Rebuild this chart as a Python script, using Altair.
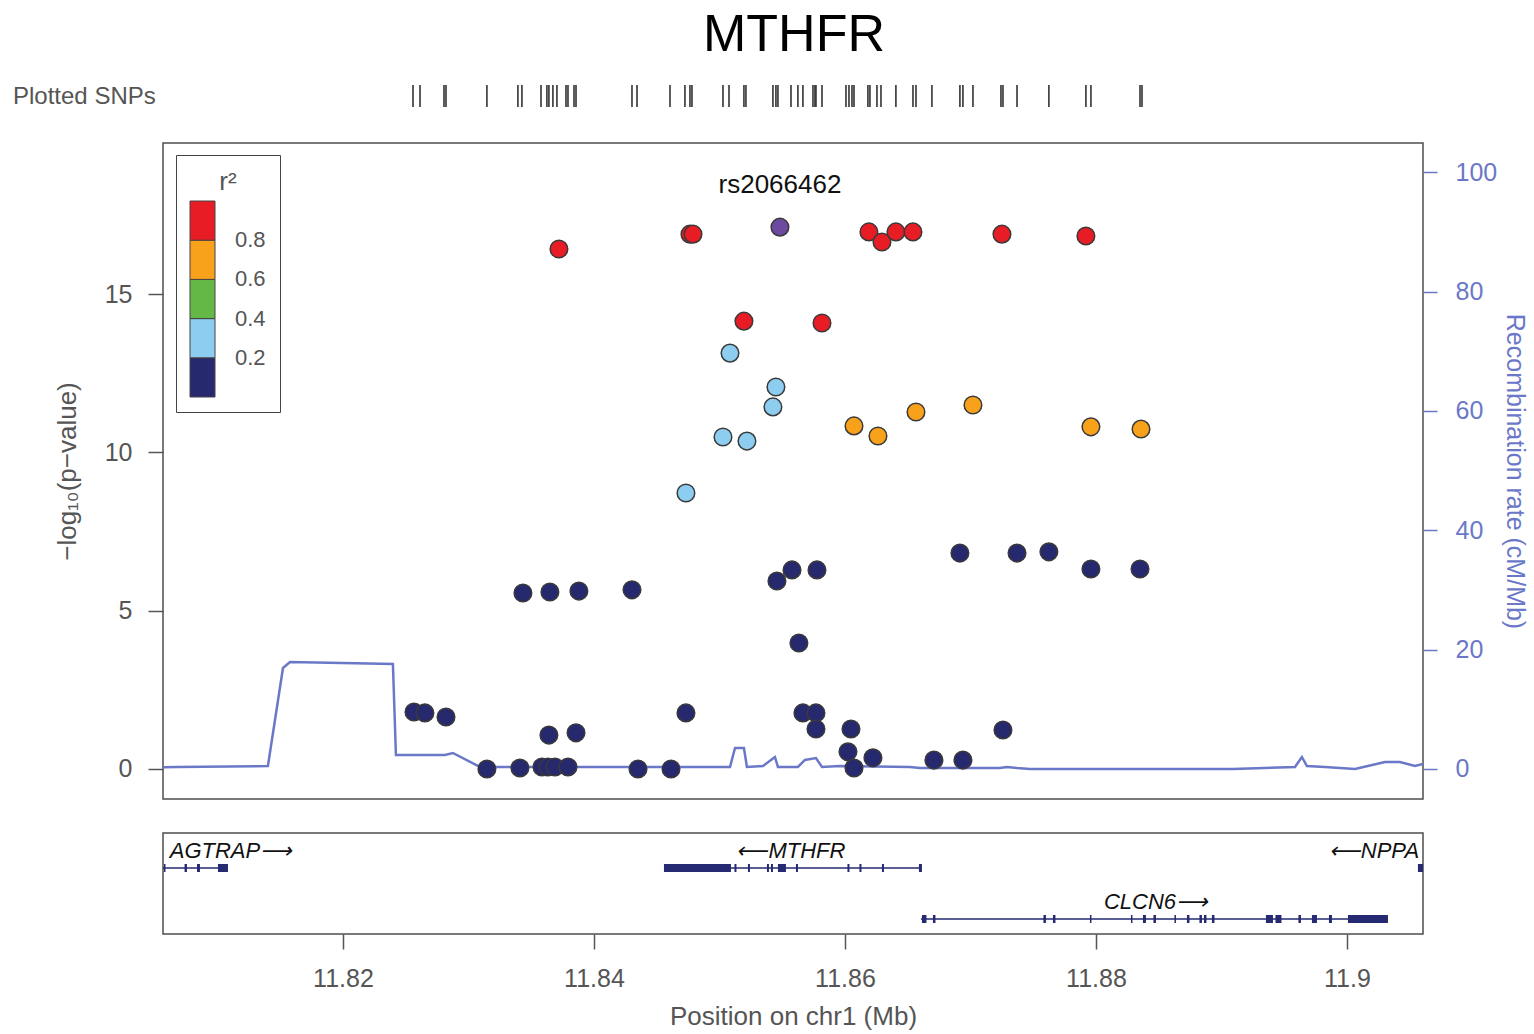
import altair as alt
import pandas as pd

FONT = "Liberation Sans"
TITLE = "MTHFR"
LEAD_SNP = "rs2066462"

# ---------------- SNP association results (position in Mb, -log10 p) ----------
# r2 >= 0.8
red_pos = [11.83721, 11.84765, 11.84789, 11.85195, 11.85817, 11.86191, 11.86295,
           11.86406, 11.86542, 11.87251, 11.87920]
red_logp = [16.43, 16.90, 16.90, 14.15, 14.09, 16.97, 16.65, 16.97, 16.97, 16.90, 16.84]
# 0.6 <= r2 < 0.8
orange_pos = [11.86072, 11.86263, 11.86566, 11.87020, 11.87960, 11.88359]
orange_logp = [10.84, 10.52, 11.28, 11.50, 10.81, 10.74]
# 0.2 <= r2 < 0.4
lblue_pos = [11.85084, 11.85450, 11.85426, 11.85028, 11.85219, 11.84733]
lblue_logp = [13.14, 12.07, 11.44, 10.49, 10.36, 8.72]
# r2 < 0.2
navy_pos = [11.83434, 11.83649, 11.83880, 11.84303, 11.85458, 11.85578, 11.85777,
            11.85633, 11.82566, 11.82653, 11.82821, 11.83641, 11.83857, 11.84733,
            11.85665, 11.85769, 11.85769, 11.83147, 11.83410, 11.83586, 11.83633,
            11.83689, 11.83793, 11.84351, 11.84614, 11.86916, 11.87371, 11.87625,
            11.87960, 11.88351, 11.86048, 11.86024, 11.86072, 11.86223, 11.86709,
            11.86940, 11.87259]
navy_logp = [5.56, 5.59, 5.62, 5.66, 5.94, 6.29, 6.29,
             3.98, 1.80, 1.77, 1.64, 1.07, 1.14, 1.77,
             1.77, 1.77, 1.26, 0.00, 0.03, 0.06, 0.06,
             0.06, 0.06, 0.00, 0.00, 6.82, 6.82, 6.86,
             6.32, 6.32, 1.26, 0.54, 0.03, 0.35, 0.28,
             0.28, 1.23]
# lead SNP
lead_pos = [11.85482]
lead_logp = [17.12]

# r2 class lower bounds
r2_red, r2_orange, r2_lblue, r2_navy = 0.8, 0.6, 0.2, 0.0
r2_breaks = [0.2, 0.4, 0.6, 0.8]
r2_colors = ["#26296e", "#8ccdf0", "#63b846", "#f8a21c", "#e81c24"]

# ---------------- Plotted SNPs rug (Mb) ----------------
rug_pos = [11.82558, 11.82614, 11.82805, 11.82821, 11.83147, 11.83394, 11.83426,
           11.83578, 11.83625, 11.83641, 11.83673, 11.83705, 11.83777, 11.83793,
           11.83841, 11.83857, 11.84303, 11.84343, 11.84606, 11.84725, 11.84765,
           11.84781, 11.85028, 11.85076, 11.85195, 11.85211, 11.85426, 11.85450,
           11.85466, 11.85570, 11.85625, 11.85665, 11.85745, 11.85761, 11.85769,
           11.85817, 11.86008, 11.86032, 11.86056, 11.86072, 11.86183, 11.86199,
           11.86255, 11.86287, 11.86406, 11.86542, 11.86566, 11.86693, 11.86916,
           11.86940, 11.87020, 11.87243, 11.87259, 11.87371, 11.87625, 11.87920,
           11.87960, 11.88351, 11.88367]

# ---------------- Recombination rate (cM/Mb) ----------------
rec_pos = [11.80566, 11.80677, 11.81402, 11.81522, 11.81578, 11.82398, 11.82422,
           11.82813, 11.82876, 11.83092, 11.85084, 11.85124, 11.85195, 11.85219,
           11.85347, 11.85442, 11.85466, 11.85625, 11.85681, 11.85769, 11.85817,
           11.85960, 11.86518, 11.86598, 11.87235, 11.87291, 11.87371, 11.87474,
           11.89092, 11.89586, 11.89641, 11.89681, 11.89825, 11.90064, 11.90303,
           11.90422, 11.90542, 11.90606]
rec_rate = [0.30, 0.34, 0.50, 16.92, 17.92, 17.59, 2.35,
            2.35, 2.68, 0.34, 0.34, 3.52, 3.52, 0.34,
            0.50, 2.01, 0.34, 0.34, 1.51, 1.84, 0.34,
            0.50, 0.34, 0.17, 0.17, 0.34, 0.17, 0.00,
            0.00, 0.34, 2.01, 0.50, 0.34, 0.00, 1.17,
            1.17, 0.50, 0.84]

# ---------------- Genes ----------------
gene_names = ["AGTRAP", "MTHFR", "CLCN6", "NPPA"]
gene_labels = ["AGTRAP\u27f6", "\u27f5MTHFR", "CLCN6\u27f6", "\u27f5NPPA"]
gene_row = [1, 1, 2, 1]
gene_start = [11.80400, 11.845578, 11.866056, 11.905657]
gene_end = [11.810837, 11.866135, 11.903267, 11.908000]
gene_label_pos = [11.811076, 11.855697, 11.884781, 11.902151]

exon_gene = (["AGTRAP"] * 4 + ["MTHFR"] * 11 + ["CLCN6"] * 19 + ["NPPA"])
exon_start = [11.805737, 11.807378, 11.808367, 11.810040,
              11.845578, 11.851195, 11.852271, 11.853785, 11.854104, 11.854661,
              11.856096, 11.860199, 11.861155, 11.862948, 11.865896,
              11.866135, 11.867012, 11.875817, 11.876574, 11.879522, 11.882789,
              11.883745, 11.884582, 11.886255, 11.887251, 11.888247, 11.888606,
              11.889243, 11.893546, 11.894303, 11.896135, 11.897211, 11.898566,
              11.900080,
              11.905657]
exon_end = [11.805857, 11.807570, 11.808606, 11.810837,
            11.850916, 11.851355, 11.852430, 11.853944, 11.854263, 11.855299,
            11.856255, 11.860359, 11.861315, 11.863108, 11.866135,
            11.866494, 11.867211, 11.876016, 11.876773, 11.879641, 11.882908,
            11.883984, 11.884781, 11.886375, 11.887450, 11.888446, 11.888805,
            11.889442, 11.894104, 11.894781, 11.896335, 11.897610, 11.898805,
            11.903267,
            11.908000]

# ---------------- tables ----------------
snp_df = pd.concat([
    pd.DataFrame({"pos": navy_pos, "logp": navy_logp, "r2": r2_navy}),
    pd.DataFrame({"pos": lblue_pos, "logp": lblue_logp, "r2": r2_lblue}),
    pd.DataFrame({"pos": orange_pos, "logp": orange_logp, "r2": r2_orange}),
    pd.DataFrame({"pos": red_pos, "logp": red_logp, "r2": r2_red}),
], ignore_index=True)
lead_df = pd.DataFrame({"pos": lead_pos, "logp": lead_logp, "snp": [LEAD_SNP]})
rug_df = pd.DataFrame({"pos": rug_pos})
rec_df = pd.DataFrame({"pos": rec_pos, "rate": rec_rate})
gene_df = pd.DataFrame({"gene": gene_names, "label": gene_labels, "row": gene_row,
                        "start": gene_start, "end": gene_end, "lpos": gene_label_pos})
row_of = dict(zip(gene_names, gene_row))
exon_df = pd.DataFrame({"gene": exon_gene, "start": exon_start, "end": exon_end,
                        "row": [row_of[g] for g in exon_gene]})

# ---------------- styling ----------------
W = 1260
GRAY = "#555555"
BOX = "#4d4d4d"
RCOL = "#6b78c8"
GENE_COL = "#262a72"
x_scale = alt.Scale(domain=[11.80566, 11.90606], nice=False, zero=False)
box_view = alt.ViewBackground(stroke=BOX, strokeWidth=1.5, fill="white")

# rug panel
rug = alt.Chart(rug_df).mark_rule(color="#333333", strokeWidth=1.6).encode(
    x=alt.X("pos:Q", scale=x_scale, axis=None),
    y=alt.value(3), y2=alt.value(25))
rug_label = alt.Chart(pd.DataFrame({"t": ["Plotted SNPs"]})).mark_text(
    align="left", baseline="middle", fontSize=24, color=GRAY, font=FONT
).encode(x=alt.value(-150), y=alt.value(15), text="t:N")
top = alt.layer(rug, rug_label).properties(
    width=W, height=26, view=alt.ViewBackground(stroke="transparent"))

# main association panel
recomb = alt.Chart(rec_df).mark_line(color=RCOL, strokeWidth=2.5, clip=True).encode(
    x=alt.X("pos:Q", scale=x_scale, axis=None),
    y=alt.Y("rate:Q", scale=alt.Scale(domain=[-5.03, 104.9], nice=False, zero=False),
            axis=alt.Axis(orient="right", values=[0, 20, 40, 60, 80, 100],
                          title="Recombination rate (cM/Mb)", titleAngle=90,
                          labelColor=RCOL, tickColor=RCOL, titleColor=RCOL,
                          tickSize=14, tickWidth=1.5, labelPadding=18, titlePadding=5,
                          labelFontSize=25, titleFontSize=25, domain=False, grid=False,
                          titleFontWeight="normal")))

y_assoc = alt.Y("logp:Q", scale=alt.Scale(domain=[-0.95, 19.78], nice=False, zero=False),
                axis=alt.Axis(orient="left", values=[0, 5, 10, 15], format="d",
                              title="\u2212log\u2081\u2080(p\u2212value)",
                              labelColor=GRAY, tickColor=GRAY, titleColor=GRAY,
                              tickSize=15, tickWidth=1.5, labelPadding=16, titlePadding=24,
                              labelFontSize=25, titleFontSize=26, domain=False, grid=False,
                              titleFontWeight="normal"))

points = alt.Chart(snp_df).mark_circle(size=310, stroke="#3a3a3a", strokeWidth=1.5,
                                       opacity=1).encode(
    x=alt.X("pos:Q", scale=x_scale, axis=None),
    y=y_assoc,
    fill=alt.Fill("r2:Q",
                  scale=alt.Scale(type="threshold", domain=r2_breaks, range=r2_colors),
                  legend=alt.Legend(type="gradient", orient="none", legendX=13, legendY=12,
                                    direction="vertical", title="r\u00b2",
                                    gradientLength=196, gradientThickness=25,
                                    gradientStrokeColor="#444", gradientStrokeWidth=1,
                                    labelFontSize=22, labelColor=GRAY, labelOffset=20,
                                    format=".1f", titleFontSize=26, titleColor=GRAY,
                                    titleFontWeight="normal", titleAnchor="middle",
                                    titlePadding=6, padding=14, fillColor="white",
                                    strokeColor="#444")),
    order=alt.Order("r2:Q"))

lead = alt.Chart(lead_df).mark_circle(size=310, stroke="#3a3a3a", strokeWidth=1.5,
                                      opacity=1, fill="#6e49a0").encode(
    x=alt.X("pos:Q", scale=x_scale, axis=None),
    y=y_assoc)
lead_text = alt.Chart(lead_df).mark_text(fontSize=26, dy=-42, color="#111", font=FONT).encode(
    x=alt.X("pos:Q", scale=x_scale, axis=None),
    y=y_assoc, text="snp:N")

assoc = alt.layer(points, lead, lead_text)
main = alt.layer(recomb, assoc).resolve_scale(
    y="independent").properties(width=W, height=656, view=box_view)

# gene panel
gaxis = alt.Axis(values=[11.82, 11.84, 11.86, 11.88, 11.9], format=".4~g",
                 title="Position on chr1 (Mb)", labelColor=GRAY, tickColor=GRAY,
                 titleColor=GRAY, tickSize=15, tickWidth=1.5, labelPadding=17,
                 titlePadding=12, labelFontSize=25, titleFontSize=26,
                 domain=False, grid=False, titleFontWeight="normal")
gy = alt.Y("row:Q", scale=alt.Scale(domain=[0.314, 2.294], reverse=True, nice=False,
                                    zero=False), axis=None)
introns = alt.Chart(gene_df).mark_rule(color=GENE_COL, strokeWidth=1.5, clip=True).encode(
    x=alt.X("start:Q", scale=x_scale, axis=gaxis), x2="end:Q", y=gy)
exons = alt.Chart(exon_df).mark_rule(color=GENE_COL, strokeWidth=8, clip=True).encode(
    x=alt.X("start:Q", scale=x_scale, axis=gaxis), x2="end:Q", y=gy)
glabels = alt.Chart(gene_df).mark_text(fontSize=22, fontStyle="italic", dy=-17,
                                       color="#111", font=FONT).encode(
    x=alt.X("lpos:Q", scale=x_scale, axis=gaxis), y=gy, text="label:N")
genes = alt.layer(introns, exons, glabels).properties(width=W, height=101, view=box_view)

chart = alt.vconcat(top, main, genes, spacing=32).resolve_scale(
    y="independent", fill="independent").resolve_legend(fill="independent").properties(
    title=alt.Title(TITLE, fontSize=52, font=FONT, fontWeight="normal", color="#000",
                    anchor="middle", offset=20, dx=24),
    padding={"left": 12, "top": 8, "right": 2, "bottom": 0},
).configure(font=FONT).configure_axis(labelFont=FONT, titleFont=FONT).configure_legend(
    labelFont=FONT, titleFont=FONT)

chart.save("out.html", embed_options={"renderer": "svg", "actions": False})
